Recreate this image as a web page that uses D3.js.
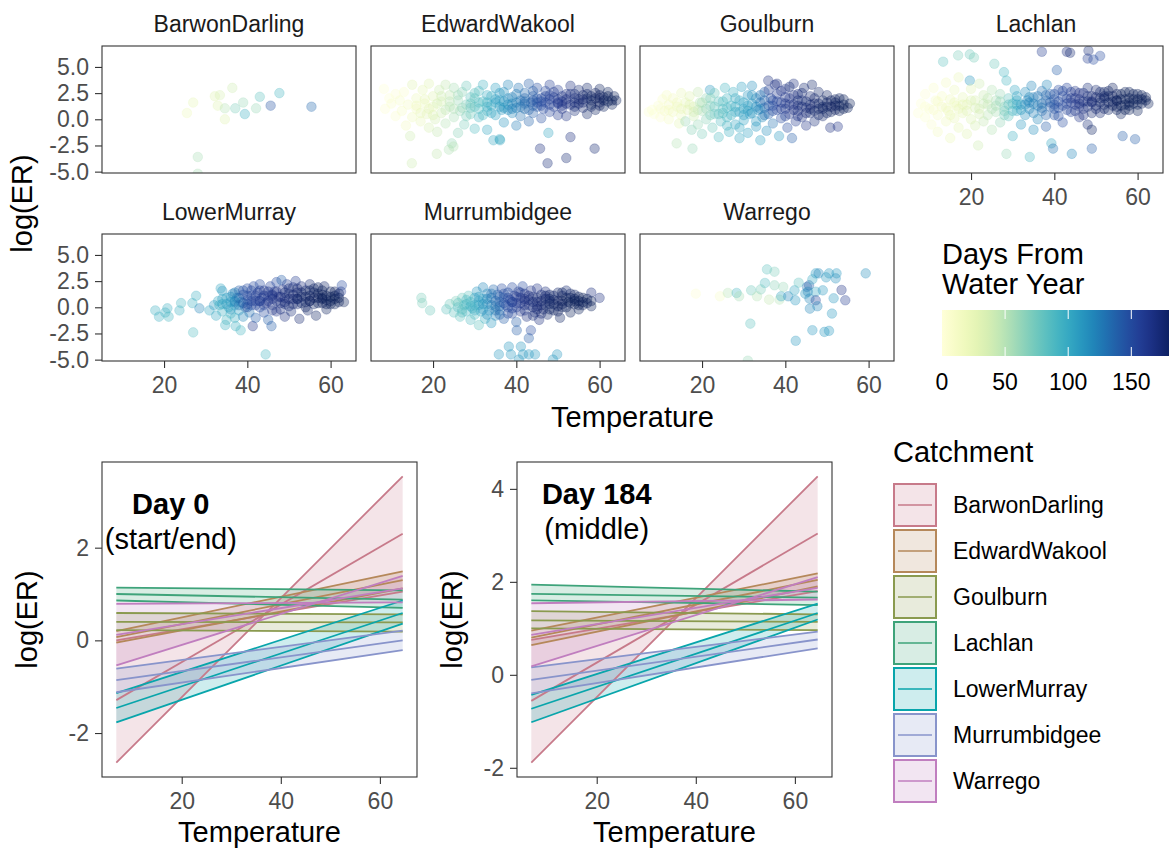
<!DOCTYPE html>
<html>
<head>
<meta charset="utf-8">
<script src="https://cdn.jsdelivr.net/npm/d3@7"></script>
<style>
  body { margin: 0; background: #fff; }
  svg text { font-family: "Liberation Sans", Arial, Helvetica, sans-serif; }
</style>
</head>
<body>
<svg id="chart" width="1169" height="850"></svg>
<script>
// ---- data ----

const catchments = ["BarwonDarling", "EdwardWakool", "Goulburn", "Lachlan",
                    "LowerMurray", "Murrumbidgee", "Warrego"];
const catchmentColors = ["#c77a8a", "#b5885a", "#8a9a4f", "#3ea37a",
                         "#08a5ab", "#8894cb", "#c07ebf"];

// top facets: [temperature, log(ER), days from water year]
const barwonPoints = [
  [25.5,0.6,20],[27.0,1.6,25],[32.2,2.2,30],[33.4,2.3,35],[36.4,3.0,40],[32.9,1.3,30],
  [34.6,1.05,50],[34.6,0.0,30],[37.1,1.05,70],[39.0,1.6,60],[39.4,0.5,95],[42.1,1.05,60],
  [43.0,2.15,80],[45.6,1.3,145],[47.7,2.5,90],[55.4,1.2,135],[28.1,-3.6,55],[28.1,-5.2,55]
];
const edwardPoints = [
  [8.2,2.9,2],[8.5,1.0,5],[9.5,2.0,3],[10,1.5,8],[11,2.4,5],[11,0.3,6],[12,1.8,10],[12.5,0.8,12],
  [13,2.6,8],[13.5,-0.6,15],[14,1.4,14],[14.5,-1.6,40],[15,3.3,30],[15,0.2,18],[16,2.0,20],[16,1.0,15],
  [17,-0.2,22],[17.5,2.8,25],[18,1.5,20],[18.5,0.5,28],[19,3.4,30],[19,-0.8,35],[20,2.2,30],[20,1.2,25],
  [20.5,0.0,38],[21,-1.2,45],[21.5,2.8,40],[22,1.7,35],[22,0.6,40],[23,3.3,45],[23,-0.4,50],[24,2.3,45],
  [24,1.2,50],[24.5,-2.3,60],[25,0.2,55],[25,3.0,55],[26,1.8,60],[26,-1.3,65],[26.5,0.8,60],[27,2.6,65],
  [27.5,-0.5,70],[28,1.4,70],[28,3.2,75],[29,0.5,75],[29,2.1,80],[30,1.2,80],[30,-0.9,85],[31,2.7,85],
  [31,0.2,90],[32,1.7,88],[32,3.3,92],[33,0.8,95],[33,-1.0,100],[34,2.2,98],[34,1.3,100],[34.5,-2.0,100],
  [35,0.4,105],[35,3.0,105],[36,1.8,110],[36,-1.9,100],[36.5,0.9,110],[37,2.6,115],[37,-0.3,112],
  [38,1.4,118],[38,3.3,120],[39,0.6,120],[39,2.1,122],[40,1.1,125],[40,-0.6,125],[40.5,3.0,128],
  [41,1.8,130],[41,0.3,130],[42,2.5,135],[42,1.0,132],[43,3.4,140],[43,-0.2,138],[43.5,1.6,140],
  [44,2.2,142],[44,0.6,140],[45,1.2,145],[45,3.0,148],[46,2.0,150],[46,0.1,148],[46.5,1.0,150],
  [47,2.7,152],[47,1.6,155],[47.7,-1.3,100],[48,0.7,155],[48,3.3,158],[49,2.1,160],[49,1.2,158],
  [50,0.4,162],[50,2.8,160],[51,1.7,165],[51,1.0,165],[52,2.4,168],[52,0.3,166],[53,3.2,170],
  [53,1.4,170],[54,2.0,172],[54,0.8,172],[55,2.8,175],[55,1.5,174],[56,1.1,176],[56,2.3,178],
  [57,0.5,178],[57,3.0,178],[58,1.8,180],[58,1.2,180],[59,2.5,182],[59,0.9,180],[60,1.6,182],
  [60,2.9,183],[61,2.1,183],[61,1.2,183],[62,1.7,184],[62,2.6,184],[63,1.4,184],[64,1.8,184],
  [63.5,2.2,184],[14.9,-4.2,40],[20.9,-3.3,45],[24.9,-2.6,50],[23.8,-2.9,52],[36.1,-2.0,100],
  [45.7,-2.8,170],[53,-1.7,170],[47.5,-4.2,172],[52,-3.7,175],[58.8,-2.8,175],
  [30,2.0,80],[33,1.6,96],[36,1.2,108],[39,1.5,120],[42,1.7,134],[45,2.0,146],[48,1.9,157],
  [51,2.2,166],[54,1.6,172],[57,2.0,178],[60,2.0,182],[50,1.5,162],[44,1.3,142],[38,0.9,116],
  [16,1.3,18],[17,0.6,24],[18,1.9,26],[19,1.0,28],[20,0.4,32],[21,1.5,36],[22,2.2,40],[23,0.9,46],
  [24,1.7,48],[25,1.0,52],[26,2.3,58],[27,1.1,62],[28,0.3,70],[29,1.5,76],[30,2.5,80],[31,1.0,86],
  [32,0.4,90],[33,2.3,96],[34,0.6,100],[35,1.6,104],[36,2.5,110],[37,1.1,114],[38,2.0,118],
  [39,1.0,122],[40,2.4,126],[41,1.2,130],[42,2.0,136],[43,0.9,138],[44,2.7,142],[45,1.6,146],
  [46,1.3,150],[47,2.2,154],[48,1.4,156],[49,2.6,160],[50,1.9,162],[51,1.3,164],[52,1.9,168],
  [53,2.4,170],[54,1.2,172],[55,1.9,174],[56,1.6,176],[57,2.4,178],[58,1.4,180],[59,2.0,182],
  [60,1.3,182],[61,1.8,183],[62,2.2,184],[63,1.8,184],[40,1.6,126],[42,1.5,134],[44,1.8,143],
  [46,1.7,150],[48,2.3,157],[50,1.6,161],[52,1.5,168],[54,2.4,172],[56,1.9,176],[58,2.2,180],
  [60,2.3,182],[35,1.9,106],[37,1.7,114],[33,1.2,96],[31,1.6,86],[29,1.1,76]
];
const goulburnPoints = [
  [7.2,0.7,2],[8,0.9,4],[8.5,0.5,3],[9.5,1.3,6],[10,0.2,5],[10.5,1.9,8],[11,0.8,10],[11.5,2.3,12],
  [12,1.4,15],[12,0.0,12],[13,0.7,18],[13,2.0,15],[13.9,-2.3,50],[14,1.2,20],[14.5,-0.4,25],[15,2.5,22],
  [15,0.4,20],[16,1.6,25],[16,-0.2,60],[16.5,0.9,28],[17,2.2,30],[17.5,-1.0,65],[17.7,-2.8,60],
  [18,1.2,35],[18,0.3,40],[19,2.6,45],[19,-0.5,60],[19.5,1.6,50],[20,0.8,55],[20,-1.4,70],[21,2.0,60],
  [21,0.0,65],[21.9,2.8,110],[22,1.3,70],[22.5,-0.8,75],[23,2.5,75],[23,0.5,80],[24,1.7,80],
  [24,-1.7,85],[24.5,-0.2,85],[25,1.0,85],[25.5,3.0,90],[26,2.0,90],[26,0.2,90],[26.5,-1.2,95],
  [27,1.3,95],[27.5,2.6,95],[28,-0.5,100],[28,0.7,100],[29,1.8,100],[29,-1.8,100],[29.5,3.1,105],
  [30,1.0,105],[30,-0.1,105],[31,2.3,110],[31,-1.3,105],[31.5,0.5,110],[32,1.5,110],[32,3.2,115],
  [33,-0.7,110],[33,2.0,120],[33.5,0.9,115],[34,-2.0,105],[34,1.6,130],[34.5,0.2,120],[35,2.6,140],
  [35,1.1,130],[35.5,-1.1,115],[35.9,3.7,170],[36,0.5,140],[36.5,2.0,150],[37,1.3,150],[37,-0.4,130],
  [37.5,3.3,165],[38,0.9,155],[38,2.4,160],[38.5,-1.6,110],[39,1.6,160],[39,0.1,150],[40,2.9,165],
  [40,1.0,160],[40.5,-0.8,150],[41,2.0,165],[41,0.5,165],[41.6,-1.8,140],[42,3.4,170],[42,1.4,168],
  [42.5,-0.2,160],[43,2.4,170],[43,0.8,170],[44,1.8,172],[44,0.2,168],[44.5,3.0,175],[45,1.1,174],
  [45,-0.6,165],[46,2.2,176],[46.4,3.3,178],[46,0.6,175],[47,1.5,177],[47,-0.2,172],[48,2.6,178],
  [48,1.0,178],[49,1.8,180],[49,0.3,178],[50,1.2,180],[50,2.3,180],[50.8,-0.8,170],[51,0.7,181],
  [51,1.8,182],[52,1.3,182],[52.6,-0.7,165],[53,2.0,183],[53,0.8,183],[54,1.4,184],[54,1.9,184],
  [55,1.1,184],[55.5,1.5,184],[28,1.2,98],[31,0.8,108],[34,1.0,125],[37,1.8,152],[40,1.5,162],
  [43,1.3,171],[46,1.4,176],[49,1.2,180],[52,1.6,182],[25,0.6,85],[22,0.4,72],[19,0.9,48],
  [10,1.0,6],[12,0.9,12],[14,1.6,18],[15,1.0,22],[17,1.4,30],[18,0.7,38],[20,1.6,55],[21,1.0,62],
  [22,2.0,70],[23,1.2,78],[24,0.5,82],[25,1.7,86],[26,1.1,90],[27,0.4,95],[28,2.0,98],[29,0.7,102],
  [30,1.6,105],[30,0.4,106],[31,1.3,108],[32,0.6,112],[32,2.3,115],[33,1.2,118],[34,2.3,128],
  [35,0.4,130],[35,1.8,138],[36,1.3,145],[36,2.8,160],[37,0.8,150],[38,1.7,156],[38,3.4,170],
  [39,1.0,160],[39,2.7,165],[40,0.3,158],[40,2.1,164],[41,1.4,166],[41,3.1,172],[42,0.9,168],
  [42,2.3,170],[43,1.8,172],[43,0.3,168],[44,1.2,172],[44,2.5,175],[45,1.7,175],[45,0.6,174],
  [46,1.0,176],[47,2.0,177],[47,0.8,178],[48,1.5,178],[48,0.4,178],[49,1.0,180],[50,1.6,181],
  [50,0.6,180],[51,1.2,182],[52,0.9,182],[52,1.9,183],[53,1.3,183],[54,1.0,184],[33,-0.2,110],
  [29,-0.8,100],[26,-0.6,92]
];
const lachlanPoints = [
  [7.3,0.6,2],[8,1.5,3],[9,0.2,4],[9,2.4,5],[10,1.0,6],[10.5,-0.5,8],[11,3.0,8],[11.5,1.8,10],
  [12,0.4,10],[12,-1.2,14],[13,2.2,12],[13,1.2,14],[13.3,5.5,80],[14,-0.2,16],[14,3.5,15],[14.5,0.8,18],
  [15,1.9,18],[15,-1.8,20],[16,2.8,20],[16,0.1,22],[16.9,6.1,70],[16.5,1.3,20],[17,-0.8,24],[17,4.0,22],
  [18,2.1,25],[18,0.6,25],[19,1.4,28],[19,-1.4,30],[19.7,6.2,75],[19.7,3.7,110],[20,2.9,30],[20,0.0,32],
  [20.7,5.9,70],[21,1.8,35],[21,-0.6,35],[21.7,-2.5,40],[22,1.0,38],[22,3.4,40],[23,2.3,42],[23,-0.2,45],
  [24,1.4,45],[24,0.4,48],[25,2.8,50],[25,-1.0,50],[25.6,5.3,75],[26,1.8,55],[26,0.7,55],[27,2.4,60],
  [27,-0.3,62],[27.9,4.5,90],[28,1.2,70],[28.5,3.7,90],[28.5,-3.3,60],[29,2.0,80],[29,0.3,80],
  [30,1.5,90],[30,-1.6,95],[30.5,2.8,100],[31,0.8,100],[31,2.2,105],[32,1.4,110],[32,-0.5,110],
  [33,2.6,115],[33,0.4,115],[33.5,1.8,120],[34,1.0,120],[34.1,-3.6,90],[34.5,3.2,120],[35,-1.0,115],
  [35,2.1,125],[36,1.3,125],[36,0.0,120],[37,2.7,130],[37,6.45,160],[37,0.8,130],[38,1.8,135],
  [38.2,3.3,120],[38,-0.7,140],[39,1.2,140],[39,2.4,140],[39.3,-2.3,100],[39.7,-2.8,130],[40,0.4,145],
  [40,1.9,145],[40.6,4.7,140],[41,2.8,150],[41,1.1,148],[42,-0.3,150],[42,2.2,150],[43,6.45,170],
  [43,1.5,155],[43.8,6.35,175],[43,3.0,155],[44,0.7,158],[44,2.0,160],[44.2,-3.3,120],[45,1.4,162],
  [45,2.7,165],[46,0.2,165],[46,1.9,165],[47,2.5,168],[47,1.0,168],[48,-0.5,172],[48,1.7,170],
  [48.2,6.55,172],[48,5.8,160],[48,3.0,172],[49,2.2,174],[49,-1.0,180],[49,-2.8,140],[49.4,5.7,150],
  [50,1.3,175],[50,2.8,176],[51,6.05,150],[51,0.6,176],[51,2.0,178],[52,2.6,178],[52,1.4,178],
  [53,0.9,180],[53,2.2,180],[54,1.7,181],[54,3.0,182],[55,1.2,182],[55,2.4,182],[56,0.5,183],
  [56,1.9,183],[56.4,-1.6,140],[57,2.6,184],[57,1.4,184],[58,2.0,184],[58,0.9,184],[59,2.4,184],
  [59,1.5,184],[59.4,-1.9,140],[60,1.9,184],[60,0.8,184],[61,2.3,184],[61,1.5,184],[62,1.8,184],
  [62.6,1.5,184],[34,1.6,122],[37,1.5,132],[40,1.4,146],[43,2.0,156],[46,1.5,166],[49,1.6,174],
  [52,2.0,178],[55,1.8,182],[58,1.6,184],[31,1.4,102],[28,0.8,72],
  [9,1.2,4],[11,0.9,9],[12,1.7,11],[14,1.1,16],[15,0.4,19],[16,1.6,21],[17,1.0,23],[18,1.4,26],
  [19,0.8,29],[20,1.8,31],[21,1.1,35],[22,0.5,38],[23,1.5,43],[24,2.0,47],[25,1.0,52],[26,1.3,56],
  [27,1.7,62],[28,0.4,72],[29,1.4,82],[30,0.8,90],[31,1.8,100],[32,0.9,108],[33,1.4,116],[34,2.1,120],
  [35,0.6,122],[35,1.5,124],[36,2.2,128],[37,1.1,132],[38,0.4,138],[38,2.3,136],[39,1.6,142],
  [40,2.4,146],[40,1.0,146],[41,1.7,150],[41,0.3,150],[42,1.3,152],[42,2.7,154],[43,0.9,156],
  [44,1.6,160],[44,2.6,160],[45,0.8,163],[45,2.0,165],[46,1.2,166],[46,2.5,167],[47,1.7,169],
  [47,0.4,168],[48,2.2,172],[48,1.2,172],[49,1.7,174],[49,0.6,176],[50,2.1,176],[50,1.0,176],
  [51,1.6,178],[51,2.6,178],[52,1.0,178],[52,2.2,179],[53,1.6,180],[53,2.7,181],[54,1.3,182],
  [54,2.2,182],[55,1.8,183],[55,0.9,183],[56,2.4,184],[56,1.3,184],[57,1.9,184],[57,0.9,184],
  [58,2.6,184],[58,1.3,184],[59,1.9,184],[60,1.4,184],[60,2.4,184],[61,1.9,184],[62,2.1,184]
];
const lowerMurrayPoints = [
  [17.9,-0.3,95],[18.8,-0.9,95],[20.3,-0.5,95],[20.8,-0.1,95],[21.1,-0.9,90],[23.7,-0.3,95],
  [24.1,0.4,90],[26.8,0.4,95],[27.7,1.1,95],[27.0,-2.4,85],[28.5,-0.1,120],[30.9,-0.3,100],
  [32,0.2,110],[32.5,-0.8,100],[33,0.6,100],[33.3,0.2,95],[33.6,1.8,100],[34,1.56,110],[34,-0.4,95],
  [34.7,-1.7,95],[35,0.9,105],[35,-1.2,90],[35.5,0.0,100],[36,0.5,110],[36,-0.6,95],[36.5,1.3,120],
  [37,-1.0,95],[37,0.2,110],[37.2,-1.8,95],[37.5,0.9,130],[38,-0.3,105],[38,1.6,140],[38.4,-2.2,90],
  [38.5,0.5,120],[39,1.2,150],[39,-0.9,120],[39.5,0.0,140],[40,0.7,150],[40,1.8,150],[40.5,-0.5,130],
  [41,1.1,155],[41,0.2,150],[41.3,-1.8,165],[41.5,2.0,150],[42,0.6,160],[42,-1.0,140],[42.5,1.4,155],
  [43,0.0,150],[43,2.2,150],[43.5,0.9,160],[44,-0.5,150],[44,1.6,160],[44.4,-4.5,90],[44.5,0.4,165],
  [45,1.1,160],[45,-1.2,140],[45.8,-1.8,140],[45.5,2.0,155],[46,0.2,165],[46,0.8,165],[46.5,1.5,160],
  [47,-0.4,165],[47,2.4,150],[47.5,1.0,170],[48,0.4,170],[48.2,2.6,140],[48.5,1.7,165],[49,-0.9,170],
  [49,0.9,170],[49.5,2.2,160],[50,0.1,172],[50,1.3,172],[50.5,-0.4,172],[51,0.8,174],[51,1.9,170],
  [51.6,2.5,160],[52,0.3,175],[52,1.4,176],[52.5,-1.1,176],[53,1.0,178],[53,2.0,170],[54,0.5,178],
  [54,1.6,178],[54.5,-0.3,178],[55,1.1,180],[55,2.2,175],[56,0.3,180],[56,1.4,180],[56.5,-0.8,180],
  [57,0.9,182],[57,1.9,180],[58,0.4,182],[58,1.2,182],[58.5,2.0,178],[59,0.7,183],[59,-0.2,183],
  [60,1.0,184],[60,0.3,184],[61,0.8,184],[61,1.5,182],[62,0.5,184],[62.7,2.1,150],[62.5,1.5,160],
  [63.2,0.5,184],[40,0.3,148],[43,0.6,156],[46,1.1,164],[49,0.5,170],[52,0.8,176],[55,0.6,180],
  [58,0.9,182],[37,0.6,118],[34,0.3,104],
  [34,0.8,104],[35,0.3,108],[36,1.0,114],[36,-0.2,110],[37,0.5,120],[37,1.4,126],[38,0.2,130],
  [38,0.9,134],[39,0.4,142],[39,1.6,146],[40,0.0,146],[40,1.1,150],[41,0.6,152],[41,1.6,154],
  [42,0.2,156],[42,1.1,158],[43,0.6,158],[43,1.6,160],[44,0.2,160],[44,1.1,162],[45,0.6,164],
  [45,1.5,164],[46,-0.3,166],[46,1.2,166],[47,0.6,168],[47,1.5,168],[48,1.0,170],[48,-0.2,170],
  [49,1.4,172],[49,0.3,172],[50,0.8,174],[50,1.8,172],[51,0.3,176],[51,1.2,176],[52,0.8,178],
  [52,1.8,176],[53,0.4,178],[53,1.4,178],[54,1.0,180],[54,0.0,180],[55,0.6,182],[55,1.6,180],
  [56,0.9,182],[56,1.8,180],[57,0.4,184],[57,1.3,184],[58,0.8,184],[58,1.6,184],[59,1.1,184],
  [59,0.3,184],[60,0.6,184],[60,1.5,184],[61,0.3,184],[61,1.1,184],[62,0.9,184],[62,1.3,180]
];
const murrumbidgeePoints = [
  [17.2,0.9,70],[17.4,0.4,70],[19.3,-0.3,75],[23.2,-0.2,80],[24,0.3,75],[25,-0.5,80],[25.5,0.6,70],
  [26,0.0,85],[26.5,-0.9,80],[27,0.9,75],[27.5,0.2,85],[28,-0.4,90],[28.5,1.1,80],[29,-1.2,85],
  [29,0.5,90],[29.5,-0.1,95],[30,0.9,100],[30,-0.7,85],[30.5,1.5,110],[31,0.2,100],[31,-1.7,80],
  [31.5,-0.4,100],[32,0.8,110],[32,1.9,120],[32.5,-1.1,95],[33,0.3,115],[33,1.3,120],[33.5,-0.3,110],
  [34,0.9,130],[34,-1.5,110],[34.5,1.7,135],[35,0.1,130],[35,-0.8,120],[35.5,1.2,140],[36,0.5,140],
  [36,-0.3,130],[36.5,1.8,150],[37,0.9,145],[37,-1.1,140],[37.5,0.2,150],[38,1.4,150],[38,-0.6,150],
  [38.2,-3.75,110],[38.7,-4.5,110],[38.5,0.7,155],[39,1.9,150],[39,-0.1,155],[39.5,1.1,160],
  [40,-1.4,140],[40,0.4,160],[40.1,-2.2,140],[40.5,1.5,160],[41,-0.4,165],[41,0.9,165],[41.1,-3.75,110],
  [41.6,-4.5,110],[41.5,2.0,150],[42,0.2,168],[42,1.3,165],[42.5,-0.9,170],[43,0.7,170],[43,-2.95,140],
  [43,-4.5,110],[43.5,-2.2,150],[43.5,1.6,165],[44,0.0,172],[44,1.0,172],[44.5,-4.5,110],[44.5,-0.5,170],
  [45,0.5,174],[45,1.8,165],[45.5,-1.2,170],[46,1.2,175],[46,0.2,176],[46.5,-0.2,176],[47,0.8,177],
  [47,1.5,170],[47.5,-0.7,178],[48,0.3,178],[48,1.2,178],[48.8,-5.0,110],[49,0.7,180],[49,-0.3,180],
  [49.8,-4.5,110],[50,1.4,178],[50,0.1,181],[50.5,-1.0,180],[51,0.6,182],[51,1.1,182],[52,0.0,183],
  [52,1.6,175],[52.5,0.5,183],[53,-0.5,184],[53,0.9,184],[54,0.3,184],[54,1.2,180],[55,0.6,184],
  [55,-0.2,184],[56,0.2,184],[56,0.9,184],[57,0.4,184],[58,1.4,170],[58,0.1,184],[60,0.9,170],
  [40.6,-5.0,110],[35.8,-4.5,110],[36,0.1,138],[39,0.5,156],[42,0.6,168],[45,0.1,174],[48,0.6,178],
  [51,0.3,182],[54,0.6,184],[30,0.2,98],[27,-0.2,82],
  [26,0.4,80],[27,-0.5,84],[28,0.3,88],[28,0.7,90],[29,0.1,94],[30,-0.3,98],[31,0.6,104],[31,1.0,108],
  [32,-0.2,112],[32,0.3,114],[33,0.8,120],[33,-0.7,118],[34,0.2,126],[34,1.3,130],[35,0.6,134],
  [35,-0.3,132],[36,1.0,140],[36,-0.7,138],[37,0.4,146],[37,1.3,148],[38,0.0,150],[38,0.9,152],
  [39,0.5,156],[39,-0.6,154],[40,1.0,160],[40,0.0,158],[41,0.4,164],[41,1.4,162],[42,-0.3,166],
  [42,0.8,168],[43,0.2,170],[43,1.1,170],[44,0.5,172],[44,-0.8,172],[45,0.9,174],[45,-0.2,174],
  [46,0.6,176],[46,-0.6,176],[47,0.2,178],[47,1.1,176],[48,0.8,178],[48,-0.2,180],[49,0.3,180],
  [49,1.1,178],[50,0.6,182],[50,-0.4,182],[51,0.0,183],[51,1.4,180],[52,0.9,184],[53,0.4,184],
  [53,1.3,180],[54,0.8,184],[55,0.2,184],[55,1.0,184],[56,0.5,184],[57,0.8,184],[58,0.6,184]
];
const warregoPoints = [
  [18.5,1.3,5],[24.3,1.05,10],[26.2,1.37,50],[28.3,1.37,90],[28.9,1.05,55],[31.8,1.62,75],[33.2,1.05,50],
  [34.1,1.71,70],[35.1,2.32,85],[35.6,3.62,80],[37.4,3.4,70],[36.1,0.73,45],[37.4,2.1,65],[38.6,0.73,50],
  [39.0,1.05,100],[39.5,1.94,60],[31.6,-1.56,80],[31.0,-5.1,60],[40.7,1.05,120],[42.2,1.62,100],
  [42.4,0.67,110],[43.2,2.35,80],[44.8,1.3,110],[45.2,1.94,130],[45.7,2.1,140],[45.8,0.83,120],
  [45.9,-0.13,120],[46.5,2.67,100],[47.3,3.24,110],[48.0,3.24,120],[47.3,1.49,100],[47.3,0.67,155],
  [47.7,0.1,120],[49.0,1.62,110],[49.8,2.86,110],[50.5,3.24,110],[52.3,3.24,110],[52.1,2.76,115],
  [51.6,0.86,110],[51.2,-0.6,110],[53.5,1.65,165],[54.4,0.67,160],[46.5,-2.19,110],[49.4,-2.35,110],
  [50.5,-2.25,110],[42.5,-3.2,110],[59.3,3.24,115],[45.4,1.49,120]
];
const facetPoints = [barwonPoints, edwardPoints, goulburnPoints, lachlanPoints,
                     lowerMurrayPoints, murrumbidgeePoints, warregoPoints];

const tempDomain = [5.1, 66.1];
const erDomain = [-5.13, 7.0];
const tempTicks = [20, 40, 60];
const erTicks = [-5, -2.5, 0, 2.5, 5];
const dayDomain = [0, 184];
const dayTicks = [0, 50, 100, 150];

// bottom panels: fitted lines [value at lineTemps[0], value at lineTemps[1]]
const lineTemps = [6.8, 64.6];
const day0Upper  = [[0.0,1.05],[0.2,1.49],[0.59,0.56],[1.14,1.08],[-1.14,0.86],[-0.61,0.21],[0.79,0.82]];
const day0Mid    = [[-1.29,2.30],[0.07,1.30],[0.40,0.39],[1.0,0.88],[-1.46,0.59],[-0.86,0.0],[0.12,1.12]];
const day0Lower  = [[-2.64,3.54],[-0.05,1.12],[0.22,0.19],[0.86,0.70],[-1.77,0.36],[-1.12,-0.21],[-0.54,1.39]];
const day184Upper = [[0.75,1.80],[0.95,2.18],[1.37,1.30],[1.94,1.79],[-0.43,1.53],[0.16,0.93],[1.54,1.62]];
const day184Mid   = [[-0.56,3.04],[0.80,2.04],[1.17,1.14],[1.74,1.66],[-0.73,1.33],[-0.11,0.76],[0.86,1.87]];
const day184Lower = [[-1.89,4.27],[0.64,1.90],[1.00,0.96],[1.60,1.50],[-1.02,1.19],[-0.40,0.57],[0.18,2.10]];

const dayTitles = ["Day 0", "Day 184"];
const daySubtitles = ["(start/end)", "(middle)"];
const titleTemp = [17.8, 20];
const titleER = [2.73, 3.68];
const subtitleER = [1.98, 2.93];

// ---- drawing ----

const svg = d3.select("#chart");
const smallFont = 23, bigFont = 29;

function styleAxis(g) {
  g.select(".domain").remove();
  g.selectAll("line").attr("stroke", "#333333").attr("stroke-width", 1.1);
  g.selectAll("text").attr("font-size", smallFont).attr("fill", "#4d4d4d")
    .attr("font-family", "'Liberation Sans', Arial, sans-serif");
}

// top: facets
const facetLeft = [102, 371, 640, 909];
const facetTop = [46, 234];
const pw = 254, ph = 127;

const fx = d3.scaleLinear().domain(tempDomain).range([0, pw]);
const fy = d3.scaleLinear().domain(erDomain).range([ph, 0]);
const dayColor = d3.scaleSequential(d3.interpolateYlGnBu).domain(dayDomain);

catchments.forEach((name, i) => {
  const col = i % 4, row = Math.floor(i / 4);
  const g = svg.append("g")
      .attr("transform", `translate(${facetLeft[col]},${facetTop[row]})`);

  g.append("rect").attr("width", pw).attr("height", ph).attr("fill", "#fff");

  g.append("clipPath").attr("id", "clip" + i)
    .append("rect").attr("width", pw).attr("height", ph);

  g.append("g").attr("clip-path", `url(#clip${i})`)
    .selectAll("circle")
    .data(facetPoints[i])
    .join("circle")
      .attr("cx", d => fx(d[0]))
      .attr("cy", d => fy(d[1]))
      .attr("r", 4.8)
      .attr("fill", d => dayColor(d[2]))
      .attr("fill-opacity", 0.33)
      .attr("stroke", d => dayColor(d[2]))
      .attr("stroke-width", 0.8)
      .attr("stroke-opacity", 0.3);

  g.append("rect").attr("width", pw).attr("height", ph)
    .attr("fill", "none").attr("stroke", "#333333").attr("stroke-width", 1.1);

  g.append("text")
    .attr("x", pw / 2).attr("y", -14)
    .attr("text-anchor", "middle")
    .attr("font-size", smallFont).attr("fill", "#1a1a1a")
    .text(name);

  if (col === 0) {
    g.append("g")
      .call(d3.axisLeft(fy).tickValues(erTicks).tickSize(7).tickPadding(6)
        .tickFormat(d => d.toFixed(1)))
      .call(styleAxis);
  }
  if (row === 1 || col === 3) {
    g.append("g")
      .attr("transform", `translate(0,${ph})`)
      .call(d3.axisBottom(fx).tickValues(tempTicks).tickSize(7).tickPadding(9))
      .call(styleAxis);
  }
});

svg.append("text")
  .attr("x", (facetLeft[0] + facetLeft[3] + pw) / 2).attr("y", 427)
  .attr("text-anchor", "middle").attr("font-size", bigFont)
  .text("Temperature");

svg.append("text")
  .attr("transform", `translate(32,${(facetTop[0] + facetTop[1] + ph) / 2}) rotate(-90)`)
  .attr("text-anchor", "middle").attr("font-size", bigFont)
  .text("log(ER)");

// colour bar legend
const barX = d3.scaleLinear().domain(dayDomain).range([942, 942 + 184 * 1.262]);
const barTop = 310, barH = 46;

svg.append("text").attr("x", 942).attr("y", 264).attr("font-size", bigFont).text("Days From");
svg.append("text").attr("x", 942).attr("y", 294).attr("font-size", bigFont).text("Water Year");

const grad = svg.append("defs").append("linearGradient").attr("id", "dayGrad");
d3.range(0, 1.0001, 0.05).forEach(t => {
  grad.append("stop").attr("offset", t)
    .attr("stop-color", dayColor(dayDomain[0] + t * (dayDomain[1] - dayDomain[0])));
});
svg.append("rect")
  .attr("x", barX(dayDomain[0])).attr("y", barTop)
  .attr("width", barX(dayDomain[1]) - barX(dayDomain[0])).attr("height", barH)
  .attr("fill", "url(#dayGrad)");

svg.append("g").selectAll("line")
  .data(dayTicks.slice(1).flatMap(d => [[d, barTop, barTop + 9], [d, barTop + barH - 9, barTop + barH]]))
  .join("line")
    .attr("x1", d => barX(d[0])).attr("x2", d => barX(d[0]))
    .attr("y1", d => d[1]).attr("y2", d => d[2])
    .attr("stroke", "#fff").attr("stroke-width", 1);

svg.append("g").selectAll("text")
  .data(dayTicks)
  .join("text")
    .attr("x", d => barX(d)).attr("y", 390)
    .attr("text-anchor", "middle").attr("font-size", smallFont)
    .text(d => d);

// bottom: fitted relationships
const curveLeft = [102, 517];
const curveTop = 462, cw = 315, ch = 315;
const panels = [
  { upper: day0Upper, mid: day0Mid, lower: day0Lower },
  { upper: day184Upper, mid: day184Mid, lower: day184Lower }
];

const tSpan = lineTemps[1] - lineTemps[0];
const cx = d3.scaleLinear()
  .domain([lineTemps[0] - 0.05 * tSpan, lineTemps[1] + 0.05 * tSpan])
  .range([0, cw]);

panels.forEach((p, k) => {
  const all = [p.upper, p.mid, p.lower].flat(2);
  const ext = d3.extent(all);
  const pad = 0.05 * (ext[1] - ext[0]);
  const cy = d3.scaleLinear().domain([ext[0] - pad, ext[1] + pad]).range([ch, 0]);

  const g = svg.append("g").attr("transform", `translate(${curveLeft[k]},${curveTop})`);
  g.append("rect").attr("width", cw).attr("height", ch).attr("fill", "#fff");

  const area = d3.area()
    .x((d, j) => cx(lineTemps[j]))
    .y0(d => cy(d[0]))
    .y1(d => cy(d[1]));
  const line = d3.line()
    .x((d, j) => cx(lineTemps[j]))
    .y(d => cy(d));

  catchments.forEach((name, i) => {
    const band = [[p.lower[i][0], p.upper[i][0]], [p.lower[i][1], p.upper[i][1]]];
    g.append("path")
      .attr("d", area(band))
      .attr("fill", catchmentColors[i]).attr("fill-opacity", 0.2);
  });
  catchments.forEach((name, i) => {
    [p.lower[i], p.mid[i], p.upper[i]].forEach(v => {
      g.append("path")
        .attr("d", line(v))
        .attr("fill", "none")
        .attr("stroke", catchmentColors[i]).attr("stroke-width", 1.8);
    });
  });

  g.append("rect").attr("width", cw).attr("height", ch)
    .attr("fill", "none").attr("stroke", "#333333").attr("stroke-width", 1.1);

  g.append("g")
    .call(d3.axisLeft(cy).ticks(4).tickSize(7).tickPadding(6).tickFormat(d => String(d)))
    .call(styleAxis);
  g.append("g")
    .attr("transform", `translate(0,${ch})`)
    .call(d3.axisBottom(cx).tickValues(tempTicks).tickSize(7).tickPadding(9))
    .call(styleAxis);

  g.append("text")
    .attr("x", cx(titleTemp[k])).attr("y", cy(titleER[k]))
    .attr("text-anchor", "middle").attr("font-size", bigFont).attr("font-weight", "bold")
    .text(dayTitles[k]);
  g.append("text")
    .attr("x", cx(titleTemp[k])).attr("y", cy(subtitleER[k]))
    .attr("text-anchor", "middle").attr("font-size", bigFont)
    .text(daySubtitles[k]);

  g.append("text")
    .attr("x", cw / 2).attr("y", ch + 65)
    .attr("text-anchor", "middle").attr("font-size", bigFont)
    .text("Temperature");
  g.append("text")
    .attr("transform", `translate(${k === 0 ? -65 : -55},${ch / 2}) rotate(-90)`)
    .attr("text-anchor", "middle").attr("font-size", bigFont)
    .text("log(ER)");
});

// catchment legend
const legend = svg.append("g").attr("transform", "translate(893,462)");
legend.append("text").attr("x", 0).attr("y", 0).attr("font-size", bigFont).text("Catchment");

const item = legend.selectAll("g.key")
  .data(catchments)
  .join("g")
    .attr("class", "key")
    .attr("transform", (d, i) => `translate(0,${21 + i * 46})`);
item.append("rect")
  .attr("x", 1).attr("y", 1).attr("width", 42).attr("height", 42)
  .attr("fill", (d, i) => catchmentColors[i]).attr("fill-opacity", 0.2)
  .attr("stroke", (d, i) => catchmentColors[i]).attr("stroke-width", 2);
item.append("line")
  .attr("x1", 5).attr("x2", 39).attr("y1", 22).attr("y2", 22)
  .attr("stroke", (d, i) => catchmentColors[i]).attr("stroke-width", 1.6);
item.append("text")
  .attr("x", 60).attr("y", 30)
  .attr("font-size", smallFont)
  .text(d => d);
</script>
</body>
</html>
